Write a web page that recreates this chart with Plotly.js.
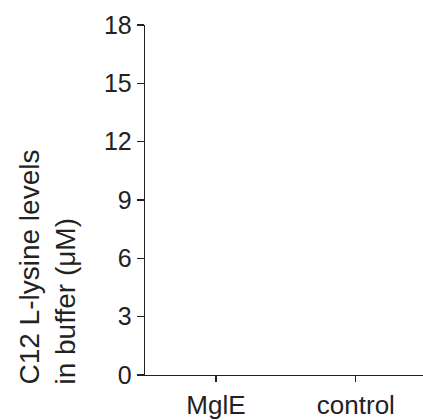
<!DOCTYPE html>
<html>
<head>
<meta charset="utf-8">
<script src="https://cdn.plot.ly/plotly-3.0.1.min.js"></script>
<style>html,body{margin:0;padding:0;background:#fff;}#chart{width:423px;height:420px;}</style>
</head>
<body>
<div id="chart"></div>
<script>
const categories = ['MglE', 'control'];
const lysineLevels = [0, 0];
const yTickValues = [0, 3, 6, 9, 12, 15, 18];
const yTitle = 'C12 L-lysine levels<br>in buffer (\u03bcM)';

const FONT = 'Liberation Sans, Arial, Helvetica, sans-serif';
const INK = '#222';

const data = [{
  type: 'bar',
  x: categories,
  y: lysineLevels,
  marker: {color: '#000'},
  hoverinfo: 'x+y',
  showlegend: false
}];

const layout = {
  width: 423,
  height: 420,
  margin: {l: 145, r: 0, t: 25, b: 45, pad: 0},
  paper_bgcolor: '#fff',
  plot_bgcolor: '#fff',
  font: {family: FONT, color: INK, size: 22},
  showlegend: false,
  xaxis: {
    type: 'category',
    range: [-0.507, 1.48],
    showline: true,
    linecolor: INK,
    linewidth: 1.3,
    ticks: 'outside',
    ticklen: 6,
    tickwidth: 1.3,
    tickcolor: INK,
    showgrid: false,
    zeroline: false,
    ticklabelstandoff: 0,
    tickfont: {family: FONT, size: 26, color: INK},
    fixedrange: true
  },
  yaxis: {
    range: [0, 18],
    tickvals: yTickValues,
    ticktext: yTickValues.map(String),
    showline: true,
    linecolor: INK,
    linewidth: 1.3,
    ticks: 'outside',
    ticklen: 7,
    tickwidth: 1.3,
    tickcolor: INK,
    showgrid: false,
    zeroline: false,
    ticklabelstandoff: 0,
    tickfont: {family: FONT, size: 25, color: INK},
    fixedrange: true
  },
  annotations: [{
    text: yTitle,
    textangle: -90,
    xref: 'paper', yref: 'paper',
    x: -0.352, y: -0.034,
    xanchor: 'center', yanchor: 'bottom',
    align: 'left',
    showarrow: false,
    font: {family: FONT, size: 28, color: INK}
  }]
};

Plotly.newPlot('chart', data, layout, {displayModeBar: false, staticPlot: true});
</script>
</body>
</html>
